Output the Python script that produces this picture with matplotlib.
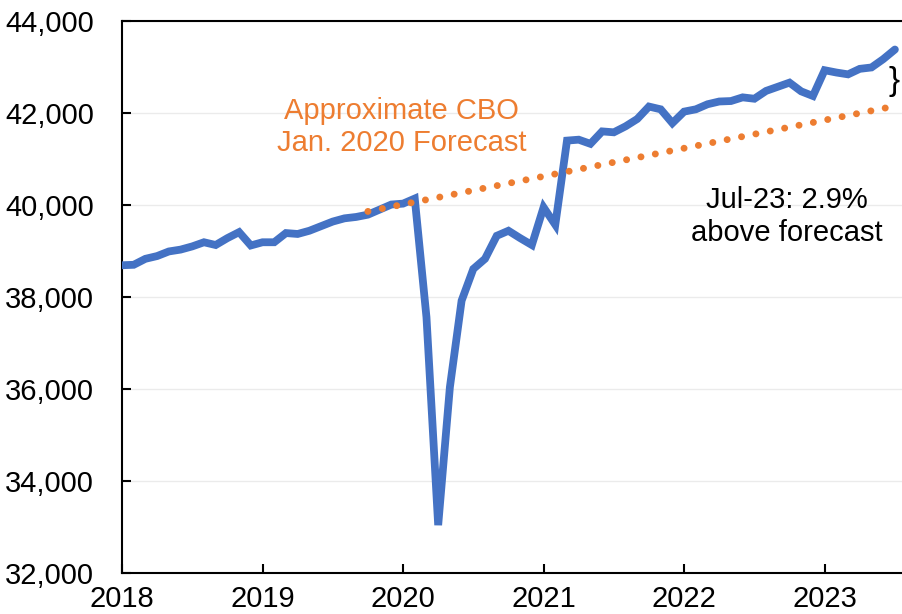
import numpy as np
import matplotlib.pyplot as plt
from matplotlib.ticker import FuncFormatter

# ================================================================
# Data (monthly, Jan 2018 .. Jul 2023)
# ================================================================
actual = [
    38690, 38700, 38830, 38890, 38990, 39030, 39100, 39190, 39130, 39280, 39410, 39120,  # 2018
    39190, 39190, 39390, 39370, 39440, 39540, 39640, 39710, 39740, 39790, 39900, 40010,  # 2019
    40030, 40140, 37560, 33040, 36040, 37920, 38610, 38830, 39330, 39440, 39280, 39130,  # 2020
    39950, 39570, 41400, 41420, 41330, 41600, 41580, 41710, 41870, 42140, 42080, 41780,  # 2021
    42030, 42080, 42190, 42250, 42260, 42340, 42310, 42480, 42570, 42660, 42470, 42370,  # 2022
    42930, 42880, 42840, 42960, 42990, 43170, 43380,                                       # 2023
]

# CBO forecast: straight line from Oct-2019 to Jul-2023 (month index from Jan-2018)
forecast_month = [21, 66]
forecast_value = [39860, 42150]

year_labels = ['2018', '2019', '2020', '2021', '2022', '2023']
year_month = [0, 12, 24, 36, 48, 60]

y_ticks = [32000, 34000, 36000, 38000, 40000, 42000, 44000]

blue = '#4472C4'
orange = '#ED7D31'

plt.rcParams['font.family'] = ['Liberation Sans', 'DejaVu Sans']

# ================================================================
# Plot
# ================================================================
fig = plt.figure(figsize=(9.03, 6.14), dpi=100)
ax = fig.add_axes([0.1351, 0.0668, 0.865, 0.899])

months = np.arange(len(actual))
ax.plot(months, actual, color=blue, linewidth=5.6,
        solid_joinstyle='miter', solid_capstyle='round', zorder=3)

ax.plot(forecast_month, forecast_value, color=orange, linewidth=5.0,
        linestyle=(0, (0.01, 2.1)), dash_capstyle='round', zorder=4)

ax.set_xlim(0, 66.7)
ax.set_ylim(32000, 44000)
ax.set_xticks(year_month)
ax.set_xticklabels(year_labels)
ax.set_yticks(y_ticks)
ax.yaxis.set_major_formatter(FuncFormatter(lambda v, p: f'{v:,.0f}'))

ax.tick_params(axis='both', direction='in', length=6.5, width=1.5,
               labelsize=21, colors='black')
ax.tick_params(axis='y', pad=20)
ax.tick_params(axis='x', pad=9)

for s in ['left', 'bottom', 'top']:
    ax.spines[s].set_linewidth(1.5)
    ax.spines[s].set_color('black')
ax.spines['right'].set_visible(False)

ax.yaxis.grid(True, color='#EBEBEB', linewidth=1.0)
ax.set_axisbelow(True)

# annotations
ax.text(23.9, 41700, 'Approximate CBO\nJan. 2020 Forecast', color=orange,
        fontsize=21, ha='center', va='center', linespacing=1.2)
ax.text(56.8, 39750, 'Jul-23: 2.9%\nabove forecast', color='black',
        fontsize=21, ha='center', va='center', linespacing=1.2)
ax.text(65.9, 42680, '}', color='black', fontsize=24,
        ha='center', va='center', clip_on=False)

fig.savefig('out.png', dpi=100)
